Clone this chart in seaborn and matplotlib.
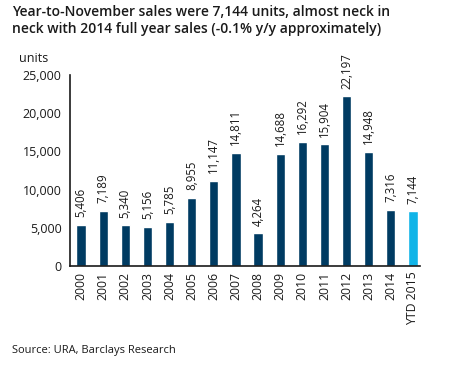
import numpy as np
import pandas as pd
import matplotlib
matplotlib.use('Agg')
import matplotlib.pyplot as plt
import seaborn as sns

years = ['2000', '2001', '2002', '2003', '2004', '2005', '2006', '2007',
         '2008', '2009', '2010', '2011', '2012', '2013', '2014', 'YTD 2015']
sales = [5406, 7189, 5340, 5156, 5785, 8955, 11147, 14811,
         4264, 14688, 16292, 15904, 22197, 14948, 7316, 7144]
yticks = [0, 5000, 10000, 15000, 20000, 25000]

NAVY = '#003B62'
CYAN = '#10B4E8'
TEXT = '#1A1A1A'

sns.set_style('white')
plt.rcParams['font.family'] = ['Open Sans', 'DejaVu Sans']

df = pd.DataFrame({'year': years, 'sales': sales})
colors = [NAVY] * (len(years) - 1) + [CYAN]

fig = plt.figure(figsize=(4.55, 3.68), dpi=100)
ax = fig.add_axes([70 / 455, 1 - 266 / 368, 350 / 455, 191 / 368])

sns.barplot(data=df, x='year', y='sales', hue='year', palette=colors,
            legend=False, width=0.42, ax=ax, saturation=1)

for i, v in enumerate(sales):
    ax.text(i, v + 1000, f'{v:,}', rotation=90, ha='center', va='bottom',
            fontsize=8.3, color=TEXT)

ax.set_ylim(0, 25000)
ax.set_xlim(-0.45, 15.32)
ax.set_yticks(yticks)
ax.set_yticklabels([f'{t:,}' for t in yticks], fontsize=9, color=TEXT)
ax.set_xticks(np.arange(len(years)))
ax.set_xticklabels(years, rotation=90, fontsize=8.8, color=TEXT)
ax.set_xticks(np.arange(len(years)) - 0.5, minor=True)
ax.tick_params(axis='x', which='major', length=0, pad=4)
ax.tick_params(axis='x', which='minor', length=4, width=1, direction='out', color=TEXT)
ax.tick_params(axis='y', length=4, width=1, direction='out', color=TEXT, pad=2)
ax.set_xlabel('')
ax.set_ylabel('')
for s in ['top', 'right']:
    ax.spines[s].set_visible(False)
for s in ['left', 'bottom']:
    ax.spines[s].set_color(TEXT)
    ax.spines[s].set_linewidth(1.2)

fig.text(12 / 455, 1 - 5 / 368,
         'Year-to-November sales were 7,144 units, almost neck in\n'
         'neck with 2014 full year sales (-0.1% y/y approximately)',
         ha='left', va='top', fontsize=10, fontweight='semibold',
         color=TEXT, linespacing=1.3)
fig.text(19 / 455, 1 - 58 / 368, 'units', ha='left', va='center',
         fontsize=9, color=TEXT)
fig.text(12 / 455, 1 - 351 / 368, 'Source: URA, Barclays Research',
         ha='left', va='center', fontsize=8, color=TEXT)

fig.savefig('out.png', dpi=100, facecolor='white')
